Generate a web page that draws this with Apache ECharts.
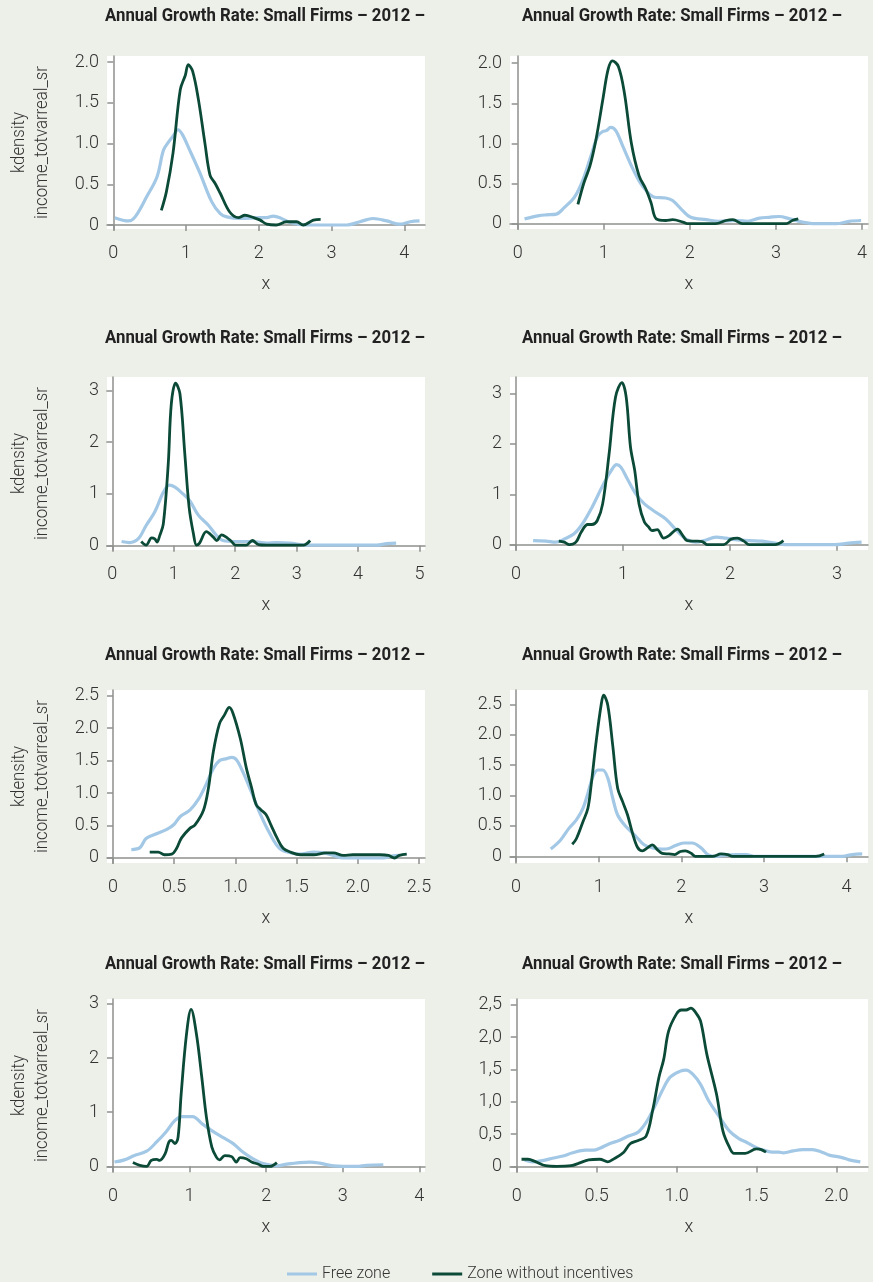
<!DOCTYPE html>
<html lang="en">
<head>
<meta charset="UTF-8">
<title>Annual Growth Rate: Small Firms</title>
<script src="https://cdn.jsdelivr.net/npm/echarts@6/dist/echarts.min.js"></script>
<style>
  * {margin: 0; padding: 0;}
  body {background: #edefe9;}
  #main {width: 873px; height: 1282px;}
</style>
</head>
<body>
<div id="main"></div>
<script>
const panelTitle = 'Annual Growth Rate: Small Firms – 2012 –';
const seriesNames = ['Free zone', 'Zone without incentives'];
const yName = ['kdensity', 'income_totvarreal_sr'];

// panel 1 (top left)
const fz1 = [[0.02,0.09],[0.21,0.05],[0.30,0.10],[0.46,0.35],[0.60,0.59],[0.69,0.92],[0.76,1.02],[0.82,1.09],[0.89,1.17],[0.95,1.11],[1.05,0.92],[1.19,0.64],[1.35,0.29],[1.47,0.14],[1.56,0.10],[1.74,0.08],[2.02,0.09],[2.11,0.09],[2.20,0.11],[2.29,0.09],[2.43,0.03],[2.66,0],[3.21,0],[3.39,0.04],[3.57,0.08],[3.76,0.05],[3.94,0.01],[4.08,0.04],[4.21,0.05]];
const nz1 = [[0.66,0.18],[0.73,0.41],[0.82,0.88],[0.92,1.66],[0.99,1.84],[1.03,1.97],[1.09,1.89],[1.17,1.54],[1.26,1.00],[1.33,0.61],[1.40,0.51],[1.47,0.39],[1.60,0.16],[1.72,0.09],[1.81,0.12],[1.93,0.09],[2.02,0.06],[2.11,0.01],[2.24,0],[2.38,0.04],[2.52,0.04],[2.61,0],[2.75,0.06],[2.85,0.07]];
const xTicks1 = [0, 1, 2, 3, 4];
const yTicks1 = [0, 0.5, 1, 1.5, 2];
const yLabels1 = ['0', '0.5', '1.0', '1.5', '2.0'];

// panel 2 (top right)
const fz2 = [[0.08,0.06],[0.25,0.10],[0.33,0.11],[0.45,0.12],[0.54,0.20],[0.66,0.33],[0.76,0.55],[0.85,0.84],[0.93,1.09],[0.99,1.15],[1.03,1.16],[1.08,1.20],[1.14,1.16],[1.22,0.97],[1.34,0.68],[1.45,0.47],[1.59,0.33],[1.72,0.32],[1.80,0.29],[1.92,0.16],[2.01,0.08],[2.19,0.05],[2.34,0.03],[2.54,0.04],[2.67,0.03],[2.81,0.07],[2.92,0.08],[3.04,0.09],[3.16,0.06],[3.31,0.02],[3.45,0],[3.70,0],[3.85,0.03],[3.99,0.04]];
const nz2 = [[0.70,0.24],[0.77,0.51],[0.84,0.72],[0.91,1.05],[0.99,1.55],[1.05,1.92],[1.10,2.03],[1.17,1.96],[1.24,1.63],[1.32,1.01],[1.41,0.60],[1.49,0.43],[1.55,0.26],[1.61,0.06],[1.72,0.04],[1.80,0.05],[1.92,0.02],[1.97,0],[2.30,0],[2.42,0.04],[2.50,0.05],[2.61,0],[3.12,0],[3.19,0.04],[3.26,0.06]];
const xTicks2 = [0, 1, 2, 3, 4];
const yTicks2 = [0, 0.5, 1, 1.5, 2];
const yLabels2 = ['0', '0.5', '1.0', '1.5', '2.0'];

// panel 3
const fz3 = [[0.15,0.08],[0.28,0.06],[0.42,0.13],[0.55,0.39],[0.69,0.65],[0.83,1.03],[0.93,1.17],[1.02,1.13],[1.15,1.00],[1.26,0.87],[1.40,0.59],[1.56,0.40],[1.70,0.19],[1.80,0.10],[2.02,0.08],[2.29,0.08],[2.51,0.05],[2.67,0.06],[2.89,0.05],[3.16,0.01],[3.60,0.01],[4.30,0.01],[4.47,0.04],[4.62,0.05]];
const nz3 = [[0.47,0.08],[0.55,0.01],[0.64,0.15],[0.69,0.13],[0.73,0.07],[0.77,0.19],[0.83,0.42],[0.91,1.58],[0.96,2.74],[1.03,3.14],[1.10,2.94],[1.18,1.77],[1.25,0.74],[1.32,0.23],[1.37,0.01],[1.42,0.05],[1.53,0.27],[1.64,0.17],[1.70,0.10],[1.78,0.21],[1.86,0.16],[1.94,0.08],[2.01,0.01],[2.18,0.01],[2.28,0.10],[2.38,0.02],[2.51,0.01],[3.11,0.01],[3.22,0.10]];
const xTicks3 = [0, 1, 2, 3, 4, 5];
const yTicks3 = [0, 1, 2, 3];
const yLabels3 = ['0', '1', '2', '3'];

// panel 4
const fz4 = [[0.16,0.08],[0.28,0.07],[0.37,0.05],[0.45,0.11],[0.54,0.21],[0.62,0.41],[0.71,0.74],[0.81,1.17],[0.89,1.47],[0.94,1.59],[0.98,1.54],[1.04,1.31],[1.12,1.01],[1.20,0.81],[1.31,0.64],[1.40,0.51],[1.49,0.31],[1.59,0.11],[1.68,0.05],[1.76,0.08],[1.87,0.15],[1.96,0.13],[2.05,0.10],[2.18,0.08],[2.30,0.07],[2.42,0.03],[2.52,0],[2.98,0],[3.11,0.03],[3.23,0.05]];
const nz4 = [[0.40,0.07],[0.45,0.05],[0.50,0],[0.56,0.05],[0.61,0.25],[0.67,0.40],[0.71,0.40],[0.76,0.48],[0.81,0.81],[0.87,1.80],[0.93,2.93],[0.99,3.22],[1.03,2.93],[1.07,1.94],[1.11,1.47],[1.15,0.81],[1.20,0.45],[1.24,0.35],[1.27,0.28],[1.32,0.30],[1.38,0.13],[1.43,0.18],[1.51,0.31],[1.55,0.21],[1.60,0.08],[1.68,0.07],[1.74,0.06],[1.79,0],[1.94,0],[2.01,0.11],[2.07,0.13],[2.13,0.07],[2.18,0],[2.42,0],[2.50,0.08]];
const xTicks4 = [0, 1, 2, 3];
const yTicks4 = [0, 1, 2, 3];
const yLabels4 = ['0', '1', '2', '3'];

// panel 5
const fz5 = [[0.15,0.13],[0.22,0.16],[0.27,0.30],[0.35,0.37],[0.44,0.44],[0.50,0.52],[0.55,0.64],[0.63,0.74],[0.70,0.91],[0.76,1.13],[0.82,1.38],[0.87,1.50],[0.93,1.53],[0.97,1.55],[1.01,1.51],[1.06,1.33],[1.13,1.02],[1.20,0.69],[1.28,0.38],[1.36,0.15],[1.45,0.08],[1.53,0.06],[1.64,0.09],[1.72,0.08],[1.80,0.04],[1.88,0],[2.21,0],[2.28,0.03],[2.34,0.04]];
const nz5 = [[0.30,0.09],[0.37,0.09],[0.42,0.05],[0.48,0.06],[0.52,0.15],[0.56,0.31],[0.63,0.46],[0.67,0.51],[0.74,0.74],[0.78,1.08],[0.82,1.64],[0.87,2.07],[0.91,2.20],[0.95,2.32],[0.98,2.23],[1.04,1.84],[1.09,1.38],[1.13,1.10],[1.17,0.82],[1.21,0.74],[1.25,0.67],[1.29,0.51],[1.34,0.31],[1.39,0.15],[1.45,0.09],[1.53,0.05],[1.64,0.05],[1.74,0.08],[1.80,0.08],[1.88,0.04],[1.96,0.05],[2.07,0.05],[2.18,0.05],[2.25,0.04],[2.30,0],[2.34,0.04],[2.40,0.06]];
const xTicks5 = [0, 0.5, 1, 1.5, 2, 2.5];
const xLabels5 = ['0', '0.5', '1.0', '1.5', '2.0', '2.5'];
const yTicks5 = [0, 0.5, 1, 1.5, 2, 2.5];
const yLabels5 = ['0', '0.5', '1.0', '1.5', '2.0', '2.5'];

// panel 6
const fz6 = [[0.42,0.12],[0.54,0.27],[0.64,0.46],[0.73,0.60],[0.81,0.79],[0.87,1.04],[0.93,1.31],[0.99,1.42],[1.05,1.42],[1.11,1.29],[1.17,0.96],[1.23,0.68],[1.33,0.49],[1.45,0.33],[1.55,0.19],[1.65,0.14],[1.77,0.12],[1.85,0.13],[1.93,0.18],[2.03,0.22],[2.13,0.22],[2.24,0.14],[2.32,0.03],[2.42,0],[2.54,0.02],[2.66,0.03],[2.78,0.03],[2.90,0],[3.95,0],[4.07,0.03],[4.19,0.04]];
const nz6 = [[0.68,0.20],[0.73,0.29],[0.81,0.57],[0.87,0.79],[0.91,1.18],[0.97,1.89],[1.03,2.49],[1.06,2.65],[1.11,2.49],[1.17,1.83],[1.23,1.12],[1.29,0.90],[1.35,0.68],[1.41,0.38],[1.47,0.15],[1.53,0.09],[1.59,0.14],[1.65,0.19],[1.71,0.11],[1.77,0.05],[1.85,0.04],[1.92,0.03],[1.99,0.08],[2.05,0.09],[2.12,0.05],[2.17,0],[2.38,0],[2.48,0.04],[2.56,0.03],[2.62,0],[3.63,0],[3.73,0.04]];
const xTicks6 = [0, 1, 2, 3, 4];
const yTicks6 = [0, 0.5, 1, 1.5, 2, 2.5];
const yLabels6 = ['0', '0.5', '1.0', '1.5', '2.0', '2.5'];

// panel 7
const fz7 = [[0.02,0.08],[0.15,0.12],[0.28,0.20],[0.44,0.28],[0.57,0.45],[0.70,0.65],[0.81,0.85],[0.91,0.92],[1.04,0.92],[1.17,0.78],[1.31,0.64],[1.44,0.53],[1.57,0.42],[1.70,0.26],[1.83,0.14],[1.96,0.05],[2.14,0.01],[2.27,0.04],[2.44,0.07],[2.57,0.08],[2.70,0.06],[2.88,0.01],[3.18,0],[3.31,0.02],[3.53,0.03]];
const nz7 = [[0.26,0.07],[0.35,0.02],[0.44,0],[0.50,0.11],[0.57,0.13],[0.61,0.11],[0.68,0.23],[0.73,0.45],[0.76,0.48],[0.81,0.42],[0.85,0.54],[0.89,1.33],[0.96,2.44],[1.02,2.90],[1.09,2.44],[1.16,1.64],[1.22,0.91],[1.29,0.36],[1.35,0.17],[1.39,0.12],[1.46,0.20],[1.55,0.18],[1.61,0.08],[1.66,0.16],[1.74,0.14],[1.81,0.08],[1.90,0.04],[1.96,0],[2.05,0],[2.14,0.07]];
const xTicks7 = [0, 1, 2, 3, 4];
const yTicks7 = [0, 1, 2, 3];
const yLabels7 = ['0', '1', '2', '3'];

// panel 8
const fz8 = [[0.05,0.10],[0.10,0.07],[0.16,0.09],[0.23,0.13],[0.29,0.16],[0.35,0.21],[0.43,0.25],[0.48,0.25],[0.52,0.28],[0.58,0.35],[0.64,0.40],[0.70,0.47],[0.76,0.53],[0.81,0.68],[0.86,0.91],[0.91,1.17],[0.96,1.38],[1.02,1.47],[1.06,1.49],[1.10,1.43],[1.15,1.27],[1.20,1.02],[1.27,0.76],[1.33,0.55],[1.39,0.43],[1.44,0.37],[1.50,0.29],[1.56,0.24],[1.60,0.22],[1.64,0.22],[1.67,0.21],[1.73,0.24],[1.79,0.26],[1.85,0.26],[1.91,0.22],[1.96,0.17],[2.03,0.14],[2.08,0.10],[2.15,0.07]];
const nz8 = [[0.03,0.11],[0.07,0.11],[0.12,0.07],[0.18,0.01],[0.25,0],[0.34,0.01],[0.39,0.05],[0.45,0.10],[0.52,0.11],[0.57,0.07],[0.61,0.12],[0.67,0.22],[0.71,0.35],[0.76,0.40],[0.81,0.47],[0.85,0.86],[0.89,1.38],[0.92,1.66],[0.95,2.09],[1.00,2.36],[1.03,2.42],[1.06,2.42],[1.09,2.45],[1.12,2.38],[1.15,2.25],[1.19,1.73],[1.25,1.12],[1.29,0.55],[1.33,0.30],[1.36,0.20],[1.43,0.20],[1.50,0.27],[1.53,0.26],[1.56,0.22]];
const xTicks8 = [0, 0.5, 1, 1.5, 2];
const xLabels8 = ['0', '0.5', '1.0', '1.5', '2.0'];
const yTicks8 = [0, 0.5, 1, 1.5, 2, 2.5];
const yLabels8 = ['0', '0,5', '1,0', '1,5', '2,0', '2,5'];

const chart = echarts.init(document.getElementById('main'));

const colLeft = [107, 510];
const colWidth = [318, 358];
const rowTop = [56, 377, 690, 999];
const rowH = 173;
const titleCenter = [265, 682];
const titleMid = [16, 338, 655, 964];

const panels = [
    {fz: fz1, nz: nz1, xt: xTicks1, yt: yTicks1, yl: yLabels1, xr: [-0.087, 4.285], yr: [-0.049, 2.076]},
    {fz: fz2, nz: nz2, xt: xTicks2, yt: yTicks2, yl: yLabels2, xr: [-0.089, 4.07], yr: [-0.066, 2.09]},
    {fz: fz3, nz: nz3, xt: xTicks3, yt: yTicks3, yl: yLabels3, xr: [-0.087, 5.09], yr: [-0.084, 3.26]},
    {fz: fz4, nz: nz4, xt: xTicks4, yt: yTicks4, yl: yLabels4, xr: [-0.056, 3.29], yr: [-0.106, 3.33]},
    {fz: fz5, nz: nz5, xt: xTicks5, xl: xLabels5, yt: yTicks5, yl: yLabels5, xr: [-0.049, 2.549], yr: [-0.077, 2.587]},
    {fz: fz6, nz: nz6, xt: xTicks6, yt: yTicks6, yl: yLabels6, xr: [-0.073, 4.26], yr: [-0.109, 2.735]},
    {fz: fz7, nz: nz7, xt: xTicks7, yt: yTicks7, yl: yLabels7, xr: [-0.078, 4.074], yr: [-0.104, 3.09]},
    {fz: fz8, nz: nz8, xt: xTicks8, xl: xLabels8, yt: yTicks8, yl: yLabels8, xr: [-0.042, 2.198], yr: [-0.087, 2.59]}
];

const axisGrey = '#8f918d';
const tickFont = {fontFamily: 'Roboto', fontWeight: 300, fontSize: 18, color: '#333'};
const titleFont = 'bold 18px Roboto';
const nameFont = '300 18px Roboto';

// squeeze text horizontally to the width of the condensed face in the original
const measure = document.createElement('canvas').getContext('2d');
function squeeze(text, font, width) {
    measure.font = font;
    return width / measure.measureText(text).width;
}
const titleScale = squeeze(panelTitle, titleFont, 320);
const nameScale = squeeze(yName[1], nameFont, 153);

function labelOf(ticks, labels) {
    return function (v) {
        const i = ticks.findIndex(t => Math.abs(t - v) < 1e-9);
        if (labels && i >= 0) return labels[i];
        return String(v);
    };
}

const grid = [], xAxis = [], yAxis = [], series = [], graphic = [];

panels.forEach(function (p, i) {
    const col = i % 2, row = Math.floor(i / 2);
    grid.push({
        left: colLeft[col], top: rowTop[row], width: colWidth[col], height: rowH,
        show: true, backgroundColor: '#fff', borderWidth: 0
    });
    xAxis.push({
        type: 'value', gridIndex: i, min: p.xr[0], max: p.xr[1],
        name: 'x', nameLocation: 'middle', nameGap: 46,
        nameTextStyle: {fontFamily: 'Roboto', fontWeight: 300, fontSize: 18, color: '#333'},
        axisLine: {lineStyle: {color: axisGrey, width: 1.5}},
        axisTick: {length: 6, lineStyle: {color: axisGrey, width: 1.5}, customValues: p.xt},
        axisLabel: Object.assign({margin: 15, customValues: p.xt, formatter: labelOf(p.xt, p.xl)}, tickFont),
        splitLine: {show: false}
    });
    yAxis.push({
        type: 'value', gridIndex: i, min: p.yr[0], max: p.yr[1],
        axisLine: {show: true, lineStyle: {color: axisGrey, width: 1.5}},
        axisTick: {show: true, length: 6, lineStyle: {color: axisGrey, width: 1.5}, customValues: p.yt},
        axisLabel: Object.assign({margin: 8, customValues: p.yt, formatter: labelOf(p.yt, p.yl)}, tickFont),
        splitLine: {show: false}
    });
    series.push({
        name: seriesNames[0], type: 'line', xAxisIndex: i, yAxisIndex: i,
        data: p.fz, showSymbol: false, smooth: 0.35,
        lineStyle: {color: '#a2c8e6', width: 3.2}, itemStyle: {color: '#a2c8e6'}, z: 2
    });
    series.push({
        name: seriesNames[1], type: 'line', xAxisIndex: i, yAxisIndex: i,
        data: p.nz, showSymbol: false, smooth: 0.35,
        lineStyle: {color: '#0c4a38', width: 2.8}, itemStyle: {color: '#0c4a38'}, z: 3
    });
    graphic.push({
        type: 'text', x: titleCenter[col], y: titleMid[row], scaleX: titleScale,
        style: {text: panelTitle, font: titleFont, fill: '#222', align: 'center', verticalAlign: 'middle'}
    });
    if (col === 0) {
        const cy = rowTop[row] + rowH / 2;
        graphic.push({
            type: 'text', x: 19, y: cy, rotation: Math.PI / 2, scaleX: nameScale,
            style: {text: yName[0], font: nameFont, fill: '#333', align: 'center', verticalAlign: 'middle'}
        });
        graphic.push({
            type: 'text', x: 42, y: cy, rotation: Math.PI / 2, scaleX: nameScale,
            style: {text: yName[1], font: nameFont, fill: '#333', align: 'center', verticalAlign: 'middle'}
        });
    }
});

chart.setOption({
    backgroundColor: '#edefe9',
    animation: false,
    grid: grid,
    xAxis: xAxis,
    yAxis: yAxis,
    series: series,
    graphic: graphic,
    legend: {
        data: seriesNames, left: 282, top: 1261,
        icon: 'rect', itemWidth: 30, itemHeight: 3, itemGap: 42,
        textStyle: {fontFamily: 'Roboto', fontWeight: 300, fontSize: 16, color: '#333'}
    }
});
</script>
</body>
</html>
